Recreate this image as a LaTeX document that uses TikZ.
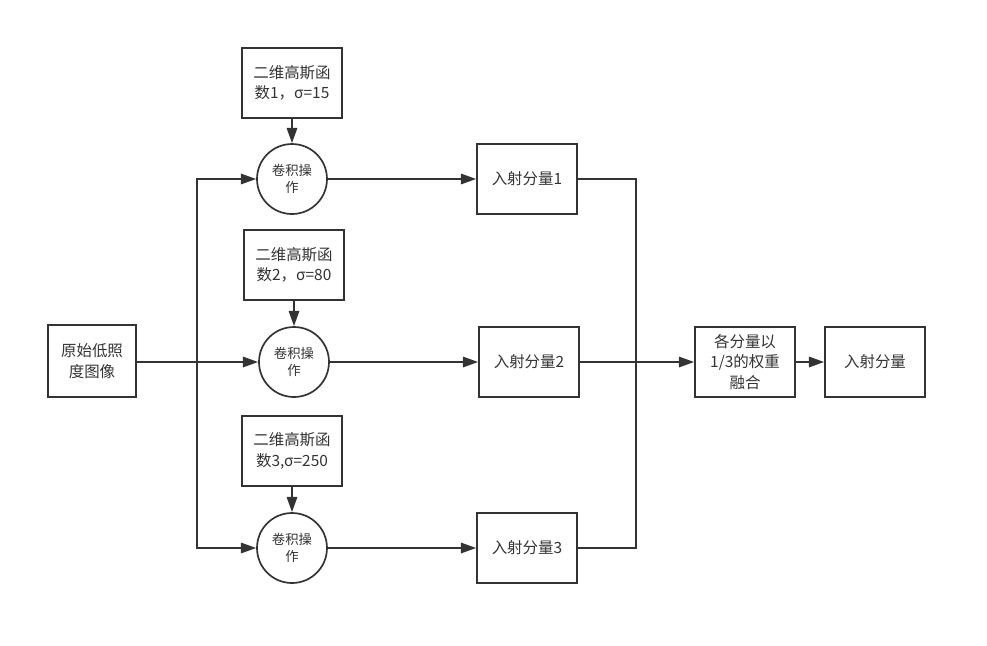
\documentclass[tikz,border=0pt]{standalone}
\usepackage{fontspec}
\setmainfont{Noto Sans CJK SC}
\usetikzlibrary{arrows.meta,positioning}

\definecolor{linegray}{HTML}{333333}

\tikzstyle{block} = [rectangle, minimum width=2.5cm, minimum height=1.75cm, text centered, align=center, draw=linegray, line width=1.2pt, font=\fontsize{11}{14.5}\selectfont, text=linegray]
\tikzstyle{inputblock} = [block, minimum width=2.2cm, minimum height=1.8cm]
\tikzstyle{conv} = [circle, minimum size=1.75cm, inner sep=0pt, align=center, draw=linegray, line width=1.2pt, font=\fontsize{9.5}{12}\selectfont, text=linegray]
\tikzstyle{arrow} = [line width=1.2pt, draw=linegray, -{Triangle[length=3.8mm,width=2.6mm]}]
\tikzstyle{wire} = [line width=1.2pt, draw=linegray]

\begin{document}
\begin{tikzpicture}[node distance=2.4cm]

	\useasboundingbox (0,0) rectangle (24.675,-16.125);

	\node (input) [inputblock] at (2.3,-9.025) {原始低照\\度图像};

	\node (gauss1) [block] at (7.3,-2.075) {二维高斯函\\数1，σ=15};
	\node (conv1) [conv, below of=gauss1] {卷积操\\作};
	\node (comp1) [block, right of=conv1, xshift=3.475cm] {入射分量1};

	\node (gauss2) [block] at (7.35,-6.625) {二维高斯函\\数2，σ=80};
	\node (conv2) [conv, below of=gauss2, yshift=-0.025cm] {卷积操\\作};
	\node (comp2) [block, right of=conv2, xshift=3.475cm] {入射分量2};

	\node (gauss3) [block] at (7.3,-11.275) {二维高斯函\\数3,σ=250};
	\node (conv3) [conv, below of=gauss3, yshift=-0.025cm] {卷积操\\作};
	\node (comp3) [block, right of=conv3, xshift=3.475cm] {入射分量3};

	\node (merge) [block, right of=comp2, xshift=3cm] {各分量以\\1/3的权重\\融合};
	\node (output) [block, right of=merge, xshift=0.85cm] {入射分量};

	\coordinate (split) at (4.925,-9.05);
	\coordinate (join) at (15.9,-9.05);

	\draw [wire] (input.east |- split) -- (split);
	\draw [arrow] (split) |- (conv1);
	\draw [arrow] (split) -- (conv2);
	\draw [arrow] (split) |- (conv3);

	\draw [arrow] (gauss1) -- (conv1);
	\draw [arrow] (gauss2) -- (conv2);
	\draw [arrow] (gauss3) -- (conv3);

	\draw [arrow] (conv1) -- (comp1);
	\draw [arrow] (conv2) -- (comp2);
	\draw [arrow] (conv3) -- (comp3);

	\draw [wire] (comp1) -| (join);
	\draw [wire] (comp3) -| (join);
	\draw [arrow] (comp2) -- (merge);
	\draw [arrow] (merge) -- (output);

\end{tikzpicture}
\end{document}
